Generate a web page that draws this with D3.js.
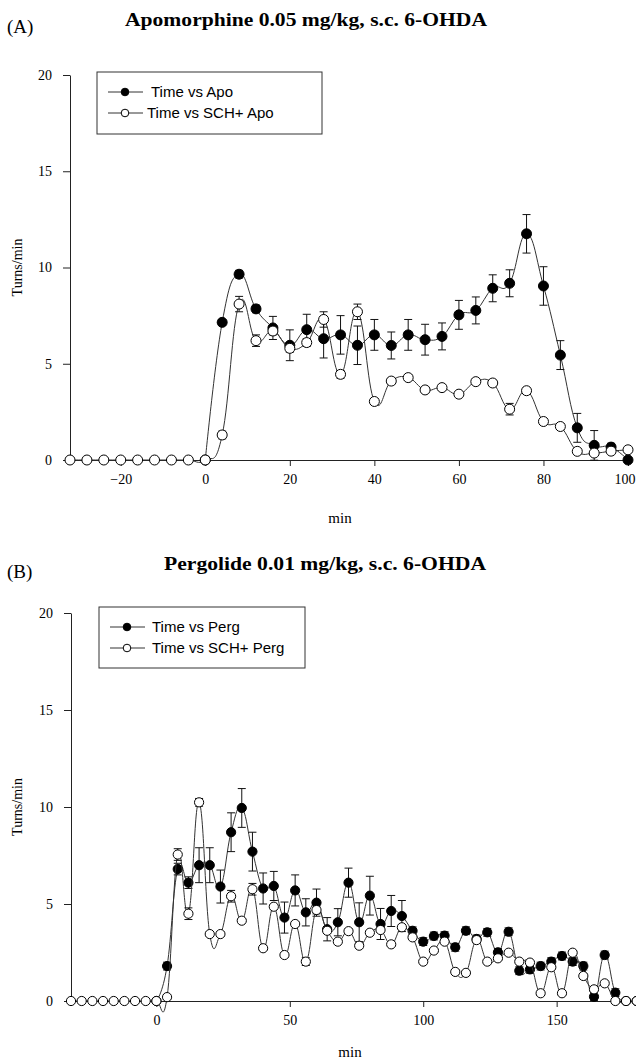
<!DOCTYPE html>
<html>
<head>
<meta charset="utf-8">
<script src="https://cdn.jsdelivr.net/npm/d3@7"></script>
<style>
  html, body { margin: 0; padding: 0; background: #fff; }
</style>
</head>
<body>
<div id="chart"></div>
<script>
// Panel A: Apomorphine, Zeitpunkte alle 4 min (null = kein Messpunkt)
const timeA = [-32, -28, -24, -20, -16, -12, -8, -4, 0, 4, 8, 12, 16, 20, 24, 28, 32, 36, 40,
  44, 48, 52, 56, 60, 64, 68, 72, 76, 80, 84, 88, 92, 96, 100];
const apoMean = [null, null, null, null, null, null, null, null, 0, 7.15, 9.65, 7.85, 6.86, 5.96, 6.77, 6.3, 6.5, 5.96, 6.5,
  5.95, 6.5, 6.25, 6.42, 7.54, 7.77, 8.92, 9.18, 11.75, 9.04, 5.45, 1.67, 0.76, 0.67, 0];
const apoErr = [0, 0, 0, 0, 0, 0, 0, 0, 0, 0.15, 0.2, 0.2, 0.6, 0.8, 0.8, 1.0, 1.0, 1.0, 0.8,
  0.7, 0.8, 0.8, 0.7, 0.75, 0.7, 0.7, 0.7, 1.0, 1.0, 0.75, 0.75, 0.77, 0.2, 0];
const schApoMean = [0, 0, 0, 0, 0, 0, 0, 0, 0, 1.3, 8.1, 6.2, 6.7, 5.8, 6.1, 7.3, 4.45, 7.7, 3.04,
  4.1, 4.28, 3.64, 3.76, 3.42, 4.07, 4.0, 2.64, 3.6, 2.0, 1.74, 0.45, 0.36, 0.46, 0.53];
const schApoErr = [0, 0, 0, 0, 0, 0, 0, 0, 0, 0.2, 0.4, 0.3, 0.2, 0.2, 0.2, 0.4, 0.2, 0.4, 0.15,
  0.15, 0.15, 0.15, 0.15, 0.1, 0.15, 0.15, 0.3, 0.15, 0.15, 0.15, 0.1, 0.1, 0.1, 0.1];

// Panel B: Pergolide
const timeB = [-32, -28, -24, -20, -16, -12, -8, -4, 0, 4, 8, 12, 16, 20, 24, 28, 32, 36, 40,
  44, 48, 52, 56, 60, 64, 68, 72, 76, 80, 84, 88, 92, 96, 100, 104, 108, 112, 116, 120,
  124, 128, 132, 136, 140, 144, 148, 152, 156, 160, 164, 168, 172, 176, 180];
const pergMean = [null, null, null, null, null, null, null, null, 0, 1.8, 6.8, 6.1, 7.0, 7.0, 5.9, 8.7, 9.95, 7.7, 5.8,
  5.93, 4.3, 5.7, 4.57, 5.07, 3.7, 4.06, 6.1, 4.06, 5.43, 3.97, 4.64, 4.38, 3.62, 3.06, 3.35, 3.37, 2.77, 3.62, 3.2,
  3.54, 2.51, 3.57, 1.56, 1.63, 1.8, 2.03, 2.32, 2.03, 1.8, 0.22, 2.37, 0.43, 0, 0];
const pergErr = [0, 0, 0, 0, 0, 0, 0, 0, 0, 0.2, 0.3, 0.3, 0.9, 0.9, 0.85, 1.0, 1.0, 1.0, 0.8,
  0.75, 0.8, 0.8, 0.7, 0.7, 0.6, 0.7, 0.75, 1.0, 1.0, 0.8, 0.8, 0.8, 0.2, 0.2, 0.2, 0.2, 0.2, 0.2, 0.2,
  0.2, 0.2, 0.2, 0.2, 0.2, 0.2, 0.2, 0.2, 0.2, 0.2, 0.2, 0.2, 0.2, 0, 0];
const schPergMean = [0, 0, 0, 0, 0, 0, 0, 0, 0, 0.2, 7.55, 4.5, 10.24, 3.45, 3.45, 5.4, 4.14, 5.76, 2.72,
  4.86, 2.37, 3.97, 2.03, 4.69, 3.62, 3.06, 3.6, 2.85, 3.52, 3.66, 2.92, 3.8, 3.28, 2.03, 2.6, 3.06, 1.5, 1.45, 3.14,
  2.03, 2.2, 2.49, 2.03, 1.98, 0.4, 1.74, 0.4, 2.49, 1.29, 0.6, 0.91, 0, 0, 0];
const schPergErr = [0, 0, 0, 0, 0, 0, 0, 0, 0, 0.1, 0.3, 0.3, 0.2, 0.1, 0.1, 0.3, 0.1, 0.3, 0.1,
  0.1, 0.1, 0.1, 0.2, 0.2, 0.1, 0.1, 0.1, 0.1, 0.1, 0.1, 0.1, 0.1, 0.1, 0.1, 0.1, 0.1, 0.1, 0.1, 0.1,
  0.1, 0.1, 0.1, 0.1, 0.1, 0.1, 0.1, 0.1, 0.1, 0.1, 0.1, 0.1, 0, 0, 0];

const yTicks = [0, 5, 10, 15, 20];
const xTicksA = [-20, 0, 20, 40, 60, 80, 100];
const xTicksB = [0, 50, 100, 150];
const titleA = "Apomorphine 0.05 mg/kg, s.c. 6-OHDA";
const titleB = "Pergolide 0.01 mg/kg, s.c. 6-OHDA";
const legendA = ["Time vs Apo", "Time vs SCH+ Apo"];
const legendB = ["Time vs Perg", "Time vs SCH+ Perg"];

const W = 636, H = 1061;
const SERIF = "'Liberation Serif', 'Times New Roman', serif";
const SANS = "'Liberation Sans', Arial, sans-serif";
const INK = "#222";

const svg = d3.select("#chart").append("svg")
  .attr("width", W).attr("height", H)
  .style("display", "block");

function drawPanel(p) {
  const x = d3.scaleLinear().domain(p.xDomain).range(p.xRange);
  const y = d3.scaleLinear().domain([0, 20]).range(p.yRange);
  const g = svg.append("g");

  // Titel + Panel-Buchstabe
  g.append("text").attr("x", p.titleX).attr("y", p.titleY)
    .attr("text-anchor", "middle").attr("font-family", SERIF)
    .attr("font-weight", "bold").attr("font-size", 19)
    .attr("textLength", p.titleLen).attr("lengthAdjust", "spacingAndGlyphs")
    .attr("fill", "#000").text(p.title);
  g.append("text").attr("x", 7).attr("y", p.letterY)
    .attr("font-family", SERIF).attr("font-size", 19)
    .attr("fill", "#000").text(p.letter);

  // Achsen
  const xAxis = g.append("g").attr("transform", `translate(0,${y(0)})`)
    .call(d3.axisBottom(x).tickValues(p.xTicks).tickSize(6).tickSizeOuter(0).tickPadding(8));
  const yAxis = g.append("g").attr("transform", `translate(${x(p.xDomain[0])},0)`)
    .call(d3.axisLeft(y).tickValues(yTicks).tickSize(7).tickSizeOuter(0).tickPadding(11));
  [xAxis, yAxis].forEach(a => {
    a.selectAll("path, line").attr("stroke", INK).attr("stroke-width", 1);
    a.selectAll("text").attr("font-family", SERIF).attr("font-size", 14).attr("fill", "#000");
  });
  // letzter Tick-Text am rechten Rand nicht abschneiden
  xAxis.selectAll(".tick text").filter(d => x(d) > W - 14).attr("text-anchor", "end").attr("dx", 7);

  g.append("text").attr("x", p.minX).attr("y", p.minY)
    .attr("text-anchor", "middle").attr("font-family", SERIF).attr("font-size", 15)
    .attr("fill", "#000").text("min");
  g.append("text")
    .attr("transform", `translate(22,${(p.yRange[0] + p.yRange[1]) / 2}) rotate(-90)`)
    .attr("text-anchor", "middle").attr("font-family", SERIF).attr("font-size", 14)
    .attr("fill", "#000").text("Turns/min");

  // Spline wie im Original (leichtes Überschwingen)
  const line = d3.line().x(d => x(d.t)).y(d => y(d.v)).curve(d3.curveCardinal.tension(-0.3));

  p.series.forEach(s => {
    const pts = p.time.map((t, i) => ({ t, v: s.mean[i], e: s.err[i] }))
      .filter(d => d.v != null);
    g.append("path").datum(pts).attr("d", line)
      .attr("fill", "none").attr("stroke", "#333").attr("stroke-width", 1);

    const eb = g.append("g").selectAll("g").data(pts.filter(d => d.e > 0)).join("g");
    eb.append("line")
      .attr("x1", d => x(d.t)).attr("x2", d => x(d.t))
      .attr("y1", d => y(d.v + d.e)).attr("y2", d => y(d.v - d.e));
    eb.append("line")
      .attr("x1", d => x(d.t) - 4).attr("x2", d => x(d.t) + 4)
      .attr("y1", d => y(d.v + d.e)).attr("y2", d => y(d.v + d.e));
    eb.append("line")
      .attr("x1", d => x(d.t) - 4).attr("x2", d => x(d.t) + 4)
      .attr("y1", d => y(d.v - d.e)).attr("y2", d => y(d.v - d.e));
    eb.selectAll("line").attr("stroke", "#111").attr("stroke-width", 1);

    g.append("g").selectAll("circle").data(pts).join("circle")
      .attr("cx", d => x(d.t)).attr("cy", d => y(d.v)).attr("r", p.r)
      .attr("fill", s.filled ? "#000" : "#fff")
      .attr("stroke", "#000").attr("stroke-width", 1);
  });

  // Legende
  const lg = g.append("g");
  lg.append("rect").attr("x", p.leg.x).attr("y", p.leg.y)
    .attr("width", p.leg.w).attr("height", p.leg.h)
    .attr("fill", "#fff").attr("stroke", "#333").attr("stroke-width", 1);
  p.series.forEach((s, i) => {
    const ry = p.leg.y + 20 + i * 21;
    const tx = p.leg.x + p.leg.textDx[i];
    lg.append("line").attr("x1", p.leg.x + 11).attr("x2", Math.min(tx - 4, p.leg.x + 46))
      .attr("y1", ry).attr("y2", ry).attr("stroke", "#333");
    lg.append("circle").attr("cx", p.leg.x + 28).attr("cy", ry).attr("r", 3.8)
      .attr("fill", s.filled ? "#000" : "#fff").attr("stroke", "#000");
    lg.append("text").attr("x", tx).attr("y", ry + 5)
      .attr("font-family", SANS).attr("font-size", 15).attr("fill", "#000")
      .text(p.legendLabels[i]);
  });
}

drawPanel({
  title: titleA, letter: "(A)", titleX: 306, titleY: 26, titleLen: 362, letterY: 33,
  xDomain: [-32, 100], xRange: [70, 628], yRange: [460, 75],
  xTicks: xTicksA, minX: 340, minY: 523, r: 5,
  time: timeA,
  series: [
    { mean: apoMean, err: apoErr, filled: true },
    { mean: schApoMean, err: schApoErr, filled: false }
  ],
  legendLabels: legendA,
  leg: { x: 97, y: 72, w: 225, h: 62, textDx: [54, 50] }
});

drawPanel({
  title: titleB, letter: "(B)", titleX: 325, titleY: 570, titleLen: 322, letterY: 578,
  xDomain: [-32, 180], xRange: [71, 636.7], yRange: [1001, 613],
  xTicks: xTicksB, minX: 350, minY: 1057, r: 4.6,
  time: timeB,
  series: [
    { mean: pergMean, err: pergErr, filled: true },
    { mean: schPergMean, err: schPergErr, filled: false }
  ],
  legendLabels: legendB,
  leg: { x: 99, y: 607, w: 206, h: 61, textDx: [53, 53] }
});
</script>
</body>
</html>
